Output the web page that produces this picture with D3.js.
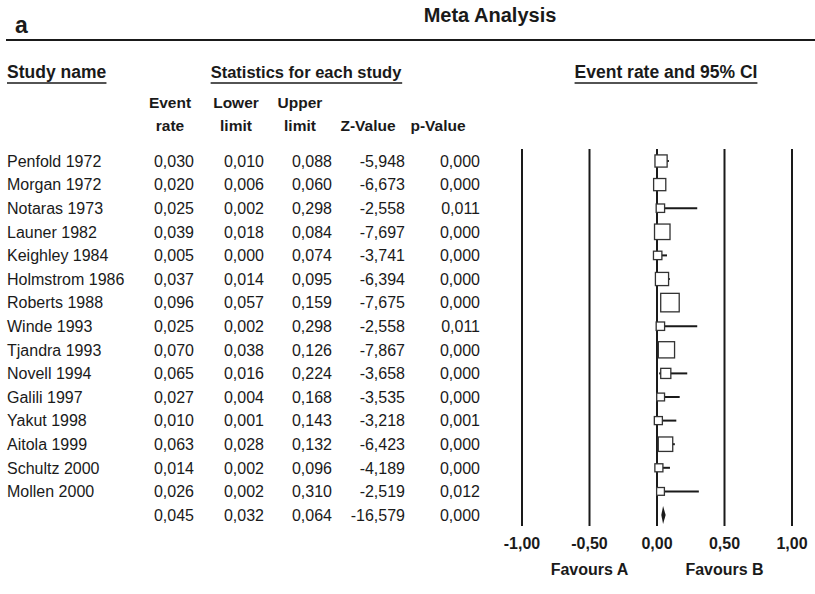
<!DOCTYPE html>
<html>
<head>
<meta charset="utf-8">
<script src="https://cdn.jsdelivr.net/npm/d3@7"></script>
<style>
  body { margin: 0; background: #fff; }
  svg { display: block; font-family: "Liberation Sans", Arial, sans-serif; }
</style>
</head>
<body>
<div id="chart"></div>
<script>
// Study data
const studies = ['Penfold 1972', 'Morgan 1972', 'Notaras 1973', 'Launer 1982', 'Keighley 1984',
    'Holmstrom 1986', 'Roberts 1988', 'Winde 1993', 'Tjandra 1993', 'Novell 1994',
    'Galili 1997', 'Yakut 1998', 'Aitola 1999', 'Schultz 2000', 'Mollen 2000'];
const eventRate = [0.030, 0.020, 0.025, 0.039, 0.005, 0.037, 0.096, 0.025, 0.070, 0.065, 0.027, 0.010, 0.063, 0.014, 0.026];
const lowerLimit = [0.010, 0.006, 0.002, 0.018, 0.000, 0.014, 0.057, 0.002, 0.038, 0.016, 0.004, 0.001, 0.028, 0.002, 0.002];
const upperLimit = [0.088, 0.060, 0.298, 0.084, 0.074, 0.095, 0.159, 0.298, 0.126, 0.224, 0.168, 0.143, 0.132, 0.096, 0.310];
const zValue = [-5.948, -6.673, -2.558, -7.697, -3.741, -6.394, -7.675, -2.558, -7.867, -3.658, -3.535, -3.218, -6.423, -4.189, -2.519];
const pValue = [0.000, 0.000, 0.011, 0.000, 0.000, 0.000, 0.000, 0.011, 0.000, 0.000, 0.000, 0.001, 0.000, 0.000, 0.012];
// relative weights
const weights = [7.1, 7.1, 3.4, 11.5, 3.4, 8.3, 16.4, 3.4, 12.6, 4.9, 2.9, 3.1, 10.0, 3.1, 2.9];

// pooled result
const summary = { rate: 0.045, lower: 0.032, upper: 0.064, z: -16.579, p: 0.000 };

const xTicks = [-1, -0.5, 0, 0.5, 1];
const favours = ['Favours A', 'Favours B'];

const width = 815, height = 594;
const ink = '#1a1a1a';

// numbers with decimal comma
const fmt = v => d3.format('.3f')(v).replace('.', ',').replace('−', '-');
const fmt2 = v => d3.format('.2f')(v).replace('.', ',').replace('−', '-');

let svg = d3.select('#chart').append('svg')
    .attr('width', width)
    .attr('height', height);

// Title and top rule
svg.append('text')
    .attr('x', 15).attr('y', 33)
    .attr('font-size', 23).attr('font-weight', 'bold').attr('fill', ink)
    .text('a');

svg.append('text')
    .attr('x', 490).attr('y', 22)
    .attr('text-anchor', 'middle')
    .attr('font-size', 20).attr('font-weight', 'bold').attr('fill', ink)
    .text('Meta Analysis');

svg.append('line')
    .attr('x1', 6).attr('x2', width)
    .attr('y1', 40).attr('y2', 40)
    .attr('stroke', ink).attr('stroke-width', 2);

// Section headers, underlined
const sections = [
    { text: 'Study name', x: 7, anchor: 'start', size: 17.5 },
    { text: 'Statistics for each study', x: 306, anchor: 'middle', size: 16.5 },
    { text: 'Event rate and 95% CI', x: 666, anchor: 'middle', size: 17.5 }
];
sections.forEach(s => {
    let t = svg.append('text')
        .attr('x', s.x).attr('y', 78)
        .attr('text-anchor', s.anchor)
        .attr('font-size', s.size).attr('font-weight', 'bold').attr('fill', ink)
        .text(s.text);
    let b = t.node().getBBox();
    svg.append('line')
        .attr('x1', b.x).attr('x2', b.x + b.width)
        .attr('y1', 83).attr('y2', 83)
        .attr('stroke', ink).attr('stroke-width', 1.5);
});

// Column headers
const colHeaders = [['Event', 'rate'], ['Lower', 'limit'], ['Upper', 'limit'], ['', 'Z-Value'], ['', 'p-Value']];
const headerX = [170, 236, 300, 368, 438];
colHeaders.forEach((h, i) => {
    h.forEach((line, j) => {
        svg.append('text')
            .attr('x', headerX[i]).attr('y', 108 + j * 23)
            .attr('text-anchor', 'middle')
            .attr('font-size', 15.5).attr('font-weight', 'bold').attr('fill', ink)
            .text(line);
    });
});

// Row layout
const rowY = d3.scaleLinear().domain([0, 1]).range([161, 184.6]);
const colRight = [194, 264, 332, 405, 480];

let rows = studies.map((s, i) => ({
    name: s, rate: eventRate[i], lower: lowerLimit[i], upper: upperLimit[i],
    z: zValue[i], p: pValue[i], w: weights[i]
}));

let table = svg.append('g').attr('font-size', 16).attr('fill', ink);

rows.concat([Object.assign({ name: '' }, summary)]).forEach((d, i) => {
    let y = rowY(i) + 5.7;
    table.append('text').attr('x', 7).attr('y', y).text(d.name);
    [d.rate, d.lower, d.upper, d.z, d.p].forEach((v, j) => {
        table.append('text')
            .attr('x', colRight[j]).attr('y', y)
            .attr('text-anchor', 'end')
            .text(fmt(v));
    });
});

// Forest plot
const x = d3.scaleLinear().domain([-1, 1]).range([522, 792]);
const size = d3.scaleSqrt().domain([0, d3.max(weights)]).range([0, 18.5]);

let plot = svg.append('g');

plot.selectAll('line.grid')
    .data(xTicks)
    .enter()
    .append('line')
    .attr('class', 'grid')
    .attr('x1', d => x(d)).attr('x2', d => x(d))
    .attr('y1', 149).attr('y2', 526)
    .attr('stroke', ink).attr('stroke-width', 2);

plot.selectAll('line.ci')
    .data(rows)
    .enter()
    .append('line')
    .attr('class', 'ci')
    .attr('x1', d => x(d.lower)).attr('x2', d => x(d.upper))
    .attr('y1', (d, i) => rowY(i)).attr('y2', (d, i) => rowY(i))
    .attr('stroke', ink).attr('stroke-width', 2);

plot.selectAll('rect.box')
    .data(rows)
    .enter()
    .append('rect')
    .attr('class', 'box')
    .attr('x', d => x(d.rate) - size(d.w) / 2)
    .attr('y', (d, i) => rowY(i) - size(d.w) / 2)
    .attr('width', d => size(d.w))
    .attr('height', d => size(d.w))
    .attr('fill', '#fff')
    .attr('stroke', '#333').attr('stroke-width', 1.3);

// Summary diamond
let sy = rowY(rows.length);
plot.append('path')
    .attr('d', `M${x(summary.lower)},${sy} L${x(summary.rate)},${sy - 9} L${x(summary.upper)},${sy} L${x(summary.rate)},${sy + 9} Z`)
    .attr('fill', ink);

// Axis labels
plot.selectAll('text.tick')
    .data(xTicks)
    .enter()
    .append('text')
    .attr('class', 'tick')
    .attr('x', d => x(d)).attr('y', 549)
    .attr('text-anchor', 'middle')
    .attr('font-size', 16).attr('font-weight', 'bold').attr('fill', ink)
    .text(d => fmt2(d));

plot.selectAll('text.fav')
    .data(favours)
    .enter()
    .append('text')
    .attr('class', 'fav')
    .attr('x', (d, i) => x(i === 0 ? -0.5 : 0.5)).attr('y', 575)
    .attr('text-anchor', 'middle')
    .attr('font-size', 16).attr('font-weight', 'bold').attr('fill', ink)
    .text(d => d);
</script>
</body>
</html>
